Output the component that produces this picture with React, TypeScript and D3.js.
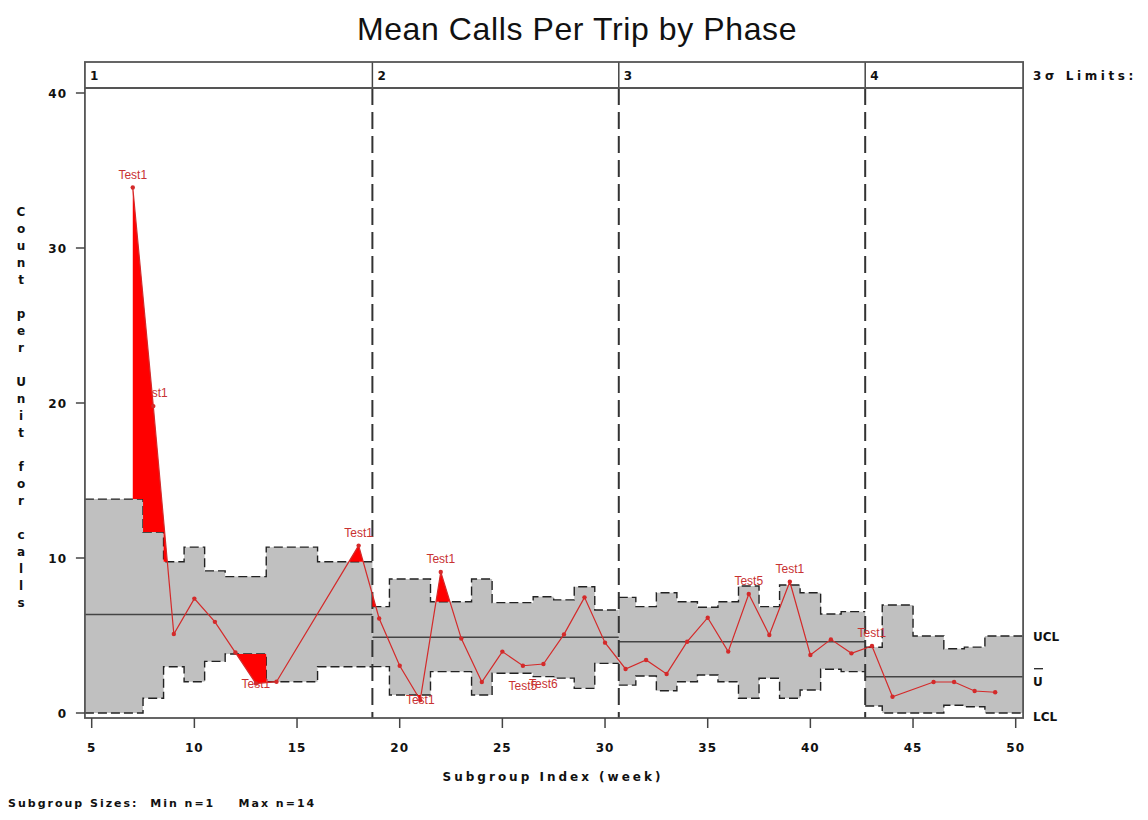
import React from "react";
import * as d3 from "d3";

// phases
const phaseNames = ["1", "2", "3", "4"];
const phaseBounds = [4.67, 18.67, 30.67, 42.67, 50.36];
const phaseMeans = [6.36, 4.88, 4.6, 2.34];

// subgroups (week), mean calls per trip, and 3 sigma limits
const weeks = [
	7, 8, 9, 10, 11, 12, 13, 14, 18,
	19, 20, 21, 22, 23, 24, 25, 26, 27, 28, 29, 30,
	31, 32, 33, 34, 35, 36, 37, 38, 39, 40, 41, 42,
	43, 44, 46, 47, 48, 49,
];
const calls = [
	33.9, 19.8, 5.1, 7.38, 5.88, 3.9, 1.9, 2.02, 10.8,
	6.1, 3.05, 0.84, 9.1, 4.8, 2.0, 3.96, 3.05, 3.16, 5.07, 7.46, 4.54,
	2.84, 3.42, 2.52, 4.6, 6.15, 3.96, 7.68, 5.03, 8.47, 3.74, 4.75, 3.85,
	4.32, 1.05, 2.0, 2.0, 1.42, 1.34,
];
const ucl = [
	13.8, 11.67, 9.76, 10.7, 9.17, 8.8, 8.8, 10.7, 9.76,
	6.86, 8.65, 8.65, 7.18, 7.18, 8.65, 7.12, 7.12, 7.5, 7.3, 8.15, 6.65,
	7.46, 6.86, 7.76, 7.18, 6.82, 7.18, 8.19, 6.86, 8.26, 7.76, 6.39, 6.54,
	4.24, 6.97, 4.97, 4.15, 4.25, 4.97,
];
const lcl = [
	0, 0.95, 2.98, 2.02, 3.33, 3.81, 3.81, 2.02, 2.98,
	2.99, 1.16, 1.16, 2.67, 2.67, 1.16, 2.56, 2.56, 2.35, 2.25, 1.59, 3.2,
	1.8, 2.39, 1.44, 2.02, 2.45, 2.02, 0.95, 2.24, 0.95, 1.48, 2.82, 2.67,
	0.45, 0, 0, 0.5, 0.4, 0,
];

// flagged tests
const testWeeks = [7, 8, 13, 18, 21, 22, 26, 27, 37, 39, 43];
const testNames = ["Test1", "Test1", "Test1", "Test1", "Test1", "Test1", "Test5", "Test6", "Test5", "Test1", "Test1"];
const testSides = ["above", "above", "on", "above", "on", "above", "below", "below", "above", "above", "above"];

const xTicks = [5, 10, 15, 20, 25, 30, 35, 40, 45, 50];
const yTicks = [0, 10, 20, 30, 40];
const yLabel = "Count per Unit for calls";

type Row = { x: number; v?: number; u: number; l: number };

const BOLD = "'DejaVu Sans', sans-serif";

export default function App() {
	const x = d3.scaleLinear().domain([5, 50]).range([91.7, 1015.7]);
	const y = d3.scaleLinear().domain([0, 40]).range([713, 93]);

	const left = x(phaseBounds[0]);
	const right = x(phaseBounds[4]);
	const top = 88;
	const bottom = 718;
	const stripTop = 62;

	const rows: Row[] = weeks.map((w, i) => ({ x: w, v: calls[i], u: ucl[i], l: lcl[i] }));

	// step points per phase, stretched to the phase edges
	const phaseSteps: Row[][] = phaseNames.map((_, p) => {
		const inPhase = rows.filter((r) => r.x > phaseBounds[p] && r.x < phaseBounds[p + 1]);
		const first = inPhase[0];
		const last = inPhase[inPhase.length - 1];
		return [
			{ x: phaseBounds[p], u: first.u, l: first.l },
			...inPhase.map((r) => ({ x: r.x, u: r.u, l: r.l })),
			{ x: phaseBounds[p + 1], u: last.u, l: last.l },
		];
	});
	const allSteps = phaseSteps.flat();

	const band = d3
		.area<Row>()
		.x((d) => x(d.x))
		.y0((d) => y(d.l))
		.y1((d) => y(d.u))
		.curve(d3.curveStep);
	const uclLine = d3.line<Row>().x((d) => x(d.x)).y((d) => y(d.u)).curve(d3.curveStep);
	const lclLine = d3.line<Row>().x((d) => x(d.x)).y((d) => y(d.l)).curve(d3.curveStep);

	const aboveUcl = d3
		.area<Row>()
		.x((d) => x(d.x))
		.y0(top)
		.y1((d) => y(d.u))
		.curve(d3.curveStep);
	const belowLcl = d3
		.area<Row>()
		.x((d) => x(d.x))
		.y0((d) => y(d.l))
		.y1(bottom)
		.curve(d3.curveStep);

	const underLine = d3
		.area<Row>()
		.x((d) => x(d.x))
		.y0(bottom)
		.y1((d) => y(d.v as number));
	const overLine = d3
		.area<Row>()
		.x((d) => x(d.x))
		.y0(top)
		.y1((d) => y(d.v as number));
	const dataLine = d3
		.line<Row>()
		.x((d) => x(d.x))
		.y((d) => y(d.v as number));

	const lastRow = rows[rows.length - 1];
	const red = "#d42a2a";

	return (
		<svg
			width={1148}
			height={820}
			style={{ position: "absolute", left: 0, top: 0, background: "#fff" }}
		>
			<defs>
				<clipPath id="clipAbove">
					<path d={aboveUcl(allSteps) || ""} />
				</clipPath>
				<clipPath id="clipBelow">
					<path d={belowLcl(allSteps) || ""} />
				</clipPath>
			</defs>

			<text
				x={577}
				y={40}
				textAnchor="middle"
				fontFamily="'Liberation Sans', Arial, sans-serif"
				fontSize={32}
				letterSpacing={0.6}
				fill="#111"
			>
				Mean Calls Per Trip by Phase
			</text>

			{/* control limit bands */}
			{phaseSteps.map((s, i) => (
				<path key={"b" + i} d={band(s) || ""} fill="#c0c0c0" />
			))}
			{phaseSteps.map((s, i) => (
				<g key={"l" + i} fill="none" stroke="#222" strokeWidth={1.4} strokeDasharray="9 4">
					<path d={uclLine(s) || ""} />
					<path d={lclLine(s) || ""} />
				</g>
			))}

			{/* phase means */}
			{phaseMeans.map((m, i) => (
				<line
					key={"m" + i}
					x1={x(phaseBounds[i])}
					x2={x(phaseBounds[i + 1])}
					y1={y(m)}
					y2={y(m)}
					stroke="#444"
					strokeWidth={1.5}
				/>
			))}

			{/* phase boundaries */}
			{phaseBounds.slice(1, 4).map((b, i) => (
				<g key={"pb" + i}>
					<line x1={x(b)} x2={x(b)} y1={top} y2={bottom} stroke="#333" strokeWidth={2} strokeDasharray="17 7" />
					<line x1={x(b)} x2={x(b)} y1={stripTop} y2={top} stroke="#444" strokeWidth={1.5} />
				</g>
			))}

			{/* frame and phase strip */}
			<rect x={left} y={stripTop} width={right - left} height={bottom - stripTop} fill="none" stroke="#555" strokeWidth={1.8} />
			<line x1={left} x2={right} y1={top} y2={top} stroke="#555" strokeWidth={1.8} />
			{phaseNames.map((n, i) => (
				<text
					key={"pn" + i}
					x={x(phaseBounds[i]) + 5}
					y={80}
					fontFamily={BOLD}
					fontWeight="bold"
					fontSize={12}
					fill="#111"
				>
					{n}
				</text>
			))}
			<text x={1033} y={80} fontFamily={BOLD} fontWeight="bold" fontSize={12} letterSpacing={3.6} fill="#111">
				3σ Limits:
			</text>

			{/* test labels (behind fills) */}
			{testWeeks.map((w, i) => {
				const r = rows.find((d) => d.x === w) as Row;
				const side = testSides[i];
				const ty = y(r.v as number) + (side === "above" ? -9 : side === "on" ? 4 : 24);
				return (
					<text
						key={"t" + i}
						x={x(w)}
						y={ty}
						textAnchor="middle"
						fontFamily="'Liberation Sans', Arial, sans-serif"
						fontSize={12}
						fill="#c83232"
					>
						{testNames[i]}
					</text>
				);
			})}

			{/* out-of-limit fills */}
			<path d={underLine(rows) || ""} fill="#ff0000" clipPath="url(#clipAbove)" />
			<path d={overLine(rows) || ""} fill="#ff0000" clipPath="url(#clipBelow)" />

			{/* data */}
			<path d={dataLine(rows) || ""} fill="none" stroke={red} strokeWidth={1.2} />
			{rows.map((r, i) => (
				<circle key={"p" + i} cx={x(r.x)} cy={y(r.v as number)} r={2.2} fill={red} />
			))}

			{/* x axis */}
			{xTicks.map((t) => (
				<g key={"xt" + t}>
					<line x1={x(t)} x2={x(t)} y1={bottom} y2={bottom + 10} stroke="#444" strokeWidth={1.5} />
					<text
						x={x(t)}
						y={752}
						textAnchor="middle"
						fontFamily={BOLD}
						fontWeight="bold"
						fontSize={12}
						letterSpacing={1}
						fill="#111"
					>
						{t}
					</text>
				</g>
			))}
			<text
				x={553}
				y={781}
				textAnchor="middle"
				fontFamily={BOLD}
				fontWeight="bold"
				fontSize={12}
				letterSpacing={3}
				fill="#111"
			>
				Subgroup Index (week)
			</text>

			{/* y axis */}
			{yTicks.map((t) => (
				<g key={"yt" + t}>
					<line x1={left - 9} x2={left} y1={y(t)} y2={y(t)} stroke="#444" strokeWidth={1.5} />
					<text
						x={67}
						y={y(t) + 5}
						textAnchor="end"
						fontFamily={BOLD}
						fontWeight="bold"
						fontSize={12}
						letterSpacing={1}
						fill="#111"
					>
						{t}
					</text>
				</g>
			))}
			<text x={21} y={216} textAnchor="middle" fontFamily={BOLD} fontWeight="bold" fontSize={12} fill="#111">
				{yLabel.split("").map((c, i) => (
					<tspan key={i} x={21} dy={i === 0 ? 0 : 17}>
						{c === " " ? "\u00a0" : c}
					</tspan>
				))}
			</text>

			{/* limit labels */}
			<g fontFamily={BOLD} fontWeight="bold" fontSize={12} fill="#111">
				<text x={1033} y={y(lastRow.u) + 5}>UCL</text>
				<text x={1033} y={y(phaseMeans[3]) + 9}>U</text>
				<line x1={1034} x2={1043} y1={y(phaseMeans[3]) - 8} y2={y(phaseMeans[3]) - 8} stroke="#111" strokeWidth={1.2} />
				<text x={1033} y={y(lastRow.l) + 8}>LCL</text>
			</g>

			<text x={8} y={807} fontFamily={BOLD} fontWeight="bold" fontSize={11} letterSpacing={2} fill="#111" style={{ whiteSpace: "pre" }}>
				{"Subgroup Sizes:  Min n=1    Max n=14"}
			</text>
		</svg>
	);
}
